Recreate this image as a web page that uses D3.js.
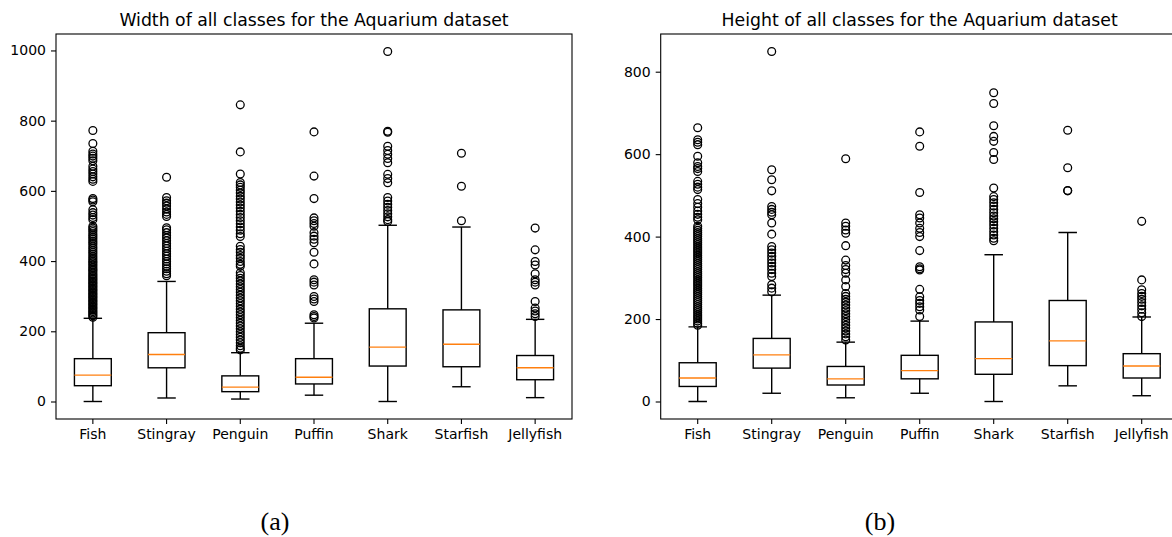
<!DOCTYPE html>
<html>
<head>
<meta charset="utf-8">
<script src="https://cdn.jsdelivr.net/npm/d3@7"></script>
<style>
  html, body { margin: 0; padding: 0; background: #fff; }
  svg { display: block; }
  text { font-family: "DejaVu Sans", sans-serif; fill: #000; }
</style>
</head>
<body>
<svg id="chart" width="1172" height="537"></svg>
<script>
// ---------- DATA ----------
const categories = ["Fish", "Stingray", "Penguin", "Puffin", "Shark", "Starfish", "Jellyfish"];

// Width panel (a)
const widthLo  = [0, 10, 7, 18, 0, 42, 11];
const widthQ1  = [45, 96, 28, 50, 101, 99, 62];
const widthMed = [75, 134, 41, 69, 155, 163, 96];
const widthQ3  = [122, 196, 73, 122, 264, 261, 131];
const widthHi  = [237, 342, 139, 223, 502, 497, 234];
const widthOutliers = [
  [772,735,713,705,699,693,686,670,662,655,648,640,633,627,578,574,569,546,538,531,524,518,499,494,489,484,478,473,468,463,457,452,447,441,436,430,425,420,414,409,404,399,395,390,386,381,377,373,369,364,360,356,352,348,344,340,336,332,328,324,320,316,312,308,304,300,296,292,288,284,280,276,272,268,264,260,256,252,248,244,240],
  [639,581,572,565,557,548,540,533,527,495,489,481,473,466,458,450,443,436,428,421,414,406,399,392,385,378,371,364,358],
  [845,711,648,624,617,610,602,594,585,577,568,560,551,542,533,524,515,506,497,488,478,470,442,433,425,416,408,399,391,385,367,359,351,343,335,327,319,311,303,295,287,279,271,263,255,247,239,231,223,215,207,199,191,183,175,167,159,152,147],
  [768,642,578,523,515,507,499,481,471,462,452,425,392,347,340,332,299,292,285,247,242,238],
  [997,770,767,727,715,704,692,680,647,635,623,581,571,562,553,544,535,526,518,513],
  [707,613,515],
  [494,432,399,389,364,347,340,332,285,266,258,250,242]
];
const widthTicks = [0, 200, 400, 600, 800, 1000];

// Height panel (b)
const heightLo  = [0, 20, 9, 20, 0, 38, 14];
const heightQ1  = [36.5, 81, 40, 55, 66, 87, 57];
const heightMed = [57, 113, 55, 75, 104, 147, 86];
const heightQ3  = [94, 153, 85, 112, 193, 245, 116];
const heightHi  = [181, 258, 144, 195, 356, 410, 205];
const heightOutliers = [
  [664,635,629,623,595,579,570,565,558,534,527,520,514,490,480,471,462,454,447,441,425,420,415,410,405,400,395,390,385,380,375,370,365,360,355,350,345,340,335,330,325,320,315,310,305,300,295,290,285,280,275,270,265,260,255,250,245,240,235,230,225,220,215,210,205,200,195,190,185],
  [849,562,538,511,473,466,459,453,433,406,376,368,360,352,344,336,328,320,311,303,283,275,266],
  [589,433,425,416,408,378,343,330,320,311,295,279,262,255,248,241,234,227,220,213,206,199,192,185,178,171,164,157,149],
  [654,619,507,453,445,433,420,410,400,366,327,322,319,272,254,245,238,230,222,206],
  [749,723,669,643,631,604,587,518,497,490,482,474,466,458,450,443,436,428,420,412,404,396,390],
  [658,567,512,511],
  [437,295,271,262,255,248,240,232,224,215,206]
];
const heightTicks = [0, 200, 400, 600, 800];

const titles = ["Width of all classes for the Aquarium dataset", "Height of all classes for the Aquarium dataset"];
const captions = ["(a)", "(b)"];

// ---------- DRAW ----------
const svg = d3.select("#chart");

function buildStats(lo, q1, med, q3, hi, outs) {
  return categories.map((c, i) => ({ cat: c, lo: lo[i], q1: q1[i], med: med[i], q3: q3[i], hi: hi[i], outs: outs[i] }));
}

function panel(opts) {
  const { left, right, top, bottom, stats, ticks, title, caption, capX } = opts;
  const g = svg.append("g");
  const allVals = stats.flatMap(s => [s.lo, s.hi, ...s.outs]);
  const vmin = d3.min(allVals), vmax = d3.max(allVals);
  const pad = (vmax - vmin) * 0.05;
  const y = d3.scaleLinear().domain([vmin - pad, vmax + pad]).range([bottom, top]);
  const xc = d3.scaleLinear().domain([0.5, categories.length + 0.5]).range([left, right]);
  const unit = xc(1) - xc(0);
  const boxW = unit * 0.5, capW = unit * 0.25;

  const clipId = "clip" + Math.round(left);
  svg.append("clipPath").attr("id", clipId).append("rect")
    .attr("x", left).attr("y", top).attr("width", right - left).attr("height", bottom - top);

  const plot = g.append("g").attr("clip-path", `url(#${clipId})`);
  stats.forEach((s, i) => {
    const cx = xc(i + 1);
    const bg = plot.append("g");
    bg.append("line").attr("x1", cx).attr("x2", cx).attr("y1", y(s.q3)).attr("y2", y(s.hi))
      .attr("stroke", "#000").attr("stroke-width", 1.4);
    bg.append("line").attr("x1", cx).attr("x2", cx).attr("y1", y(s.q1)).attr("y2", y(s.lo))
      .attr("stroke", "#000").attr("stroke-width", 1.4);
    [s.hi, s.lo].forEach(v => {
      bg.append("line").attr("x1", cx - capW / 2).attr("x2", cx + capW / 2).attr("y1", y(v)).attr("y2", y(v))
        .attr("stroke", "#000").attr("stroke-width", 1.4);
    });
    bg.append("rect").attr("x", cx - boxW / 2).attr("width", boxW)
      .attr("y", y(s.q3)).attr("height", y(s.q1) - y(s.q3))
      .attr("fill", "none").attr("stroke", "#000").attr("stroke-width", 1.4);
    bg.append("line").attr("x1", cx - boxW / 2).attr("x2", cx + boxW / 2).attr("y1", y(s.med)).attr("y2", y(s.med))
      .attr("stroke", "#ff7f0e").attr("stroke-width", 1.4);
    bg.selectAll("circle.o").data(s.outs).join("circle").attr("class", "o")
      .attr("cx", cx).attr("cy", d => y(d)).attr("r", 3.9)
      .attr("fill", "none").attr("stroke", "#000").attr("stroke-width", 1.3);
  });

  const yAxis = d3.axisLeft(y).tickValues(ticks).tickSize(5).tickPadding(5).tickFormat(d3.format("d"));
  const ga = g.append("g").attr("transform", `translate(${left},0)`).call(yAxis);
  ga.select(".domain").remove();
  ga.selectAll("line").attr("stroke", "#000").attr("stroke-width", 1.1);
  ga.selectAll("text").attr("font-size", 14).attr("font-family", "DejaVu Sans");

  const xb = d3.scaleBand().domain(categories).range([left, left + unit * categories.length]);
  const xAxis = d3.axisBottom(xb).tickSize(5).tickPadding(5);
  const gx = g.append("g").attr("transform", `translate(0,${bottom})`).call(xAxis);
  gx.select(".domain").remove();
  gx.selectAll("line").attr("stroke", "#000").attr("stroke-width", 1.1);
  gx.selectAll("text").attr("font-size", 14).attr("font-family", "DejaVu Sans");

  g.append("rect").attr("x", left).attr("y", top).attr("width", right - left).attr("height", bottom - top)
    .attr("fill", "none").attr("stroke", "#000").attr("stroke-width", 1.1);

  g.append("text").attr("x", (left + right) / 2).attr("y", top - 8)
    .attr("text-anchor", "middle").attr("font-size", 17.3).text(title);

  g.append("text").attr("x", capX).attr("y", 530).attr("text-anchor", "middle")
    .style("font-family", "'Liberation Serif', serif")
    .attr("font-size", 26).text(caption);
}

panel({
  left: 56, right: 572, top: 34, bottom: 419,
  stats: buildStats(widthLo, widthQ1, widthMed, widthQ3, widthHi, widthOutliers),
  ticks: widthTicks, title: titles[0], caption: captions[0], capX: 275
});
panel({
  left: 660.7, right: 1178.7, top: 34, bottom: 419,
  stats: buildStats(heightLo, heightQ1, heightMed, heightQ3, heightHi, heightOutliers),
  ticks: heightTicks, title: titles[1], caption: captions[1], capX: 880
});
</script>
</body>
</html>
